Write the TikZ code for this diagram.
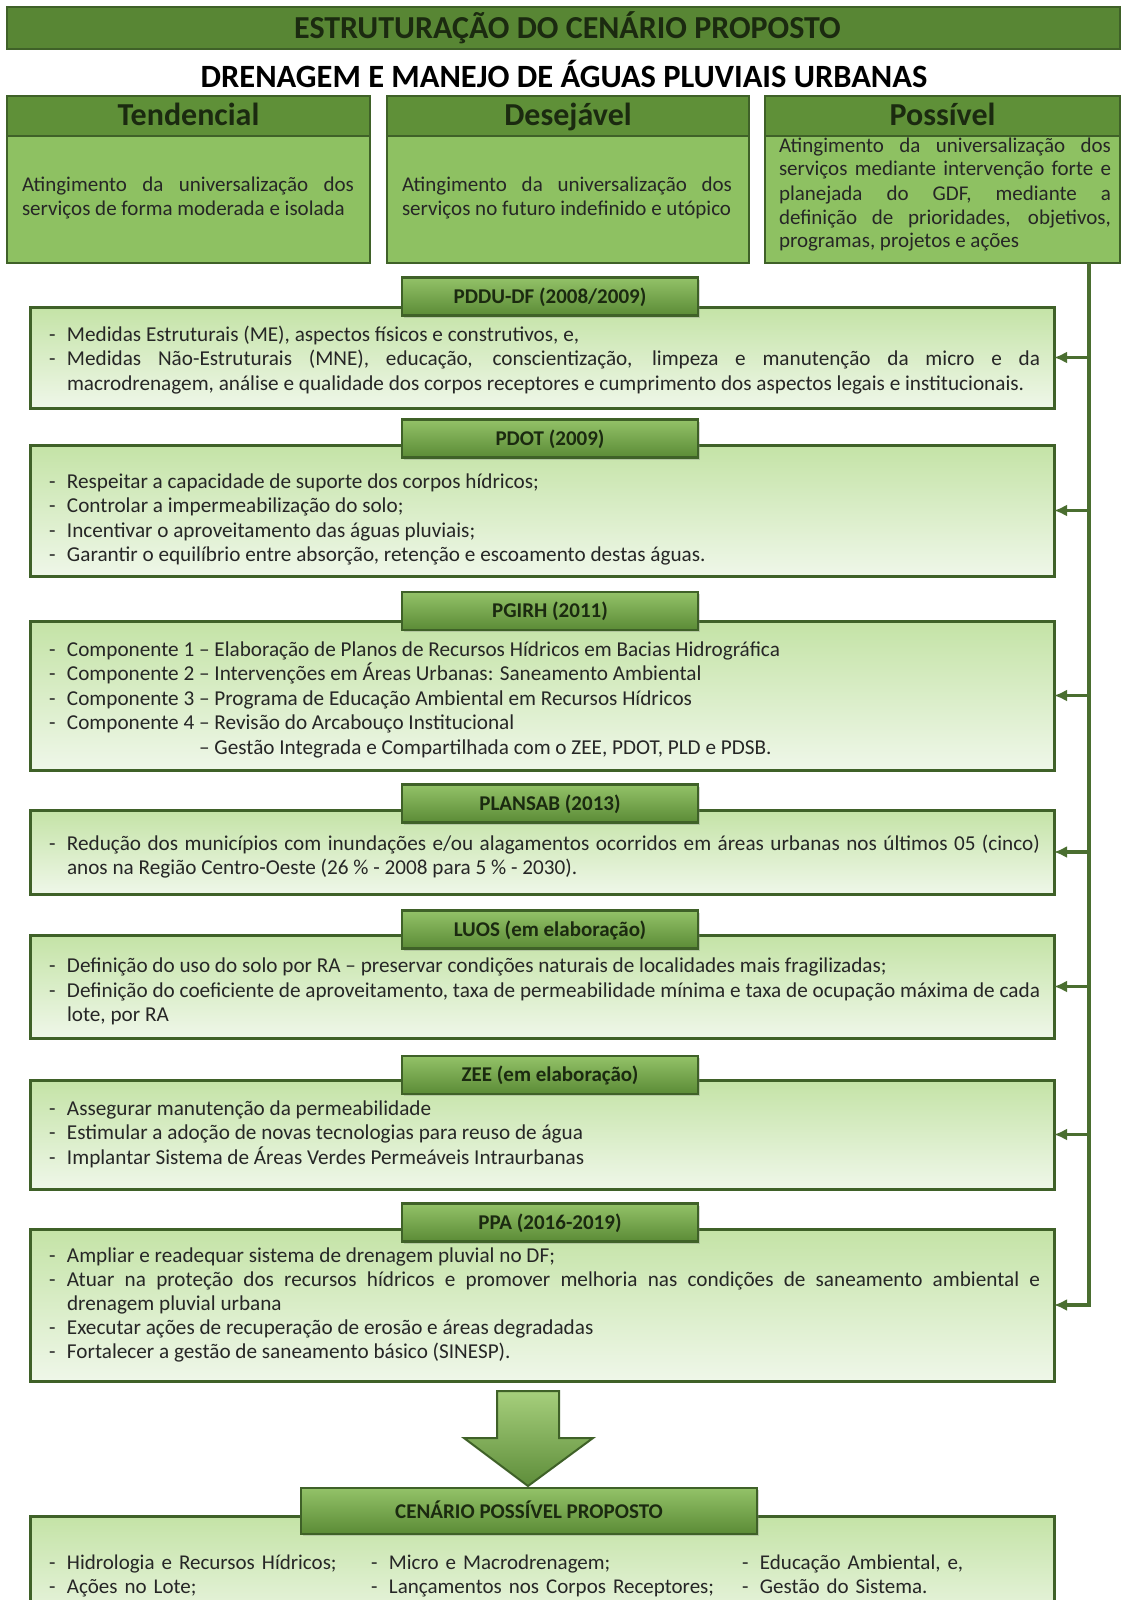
\documentclass[tikz,border=0pt]{standalone}
\usepackage{fontspec}
\setmainfont{Carlito}
\usetikzlibrary{arrows.meta,shadows,calc}
\definecolor{dkg}{HTML}{3F6128}
\definecolor{barg}{HTML}{588634}
\definecolor{hdrg}{HTML}{5F9038}
\definecolor{bodyg}{HTML}{8EC162}
\definecolor{lgtop}{HTML}{C4E3A6}
\definecolor{lgbot}{HTML}{EFF7E9}
\definecolor{lbtop}{HTML}{93C268}
\definecolor{lbbot}{HTML}{5B8B36}
\definecolor{ttxt}{HTML}{1B2A10}
\definecolor{btxt}{HTML}{262626}
\definecolor{conng}{HTML}{4A6E30}
\definecolor{artop}{HTML}{A6CF7C}
\definecolor{arbot}{HTML}{5E8D3A}
\newcommand\bitem[1]{\noindent\hangindent=18pt\hangafter=1\makebox[18pt][l]{-}#1\par}
\begin{document}
\begin{tikzpicture}[x=1pt,y=-1pt,
  every node/.style={inner sep=0pt, outer sep=0pt},
  titlebar/.style={draw=dkg, line width=2pt, fill=barg, font=\fontsize{32}{36}\selectfont\bfseries, text=ttxt},
  subt/.style={font=\fontsize{32.5}{36}\selectfont\bfseries, text=black},
  hdr/.style={draw=dkg, line width=2.5pt, fill=hdrg, font=\fontsize{32}{36}\selectfont\bfseries, text=ttxt,
     text height=25pt, text depth=6pt},
  topbody/.style={draw=dkg, line width=2.5pt, fill=bodyg},
  toptext/.style={anchor=base west, text width=332pt, align=justify, font=\fontsize{21}{24}\selectfont, text=btxt},
  contentbox/.style={draw=dkg, line width=3pt, top color=lgtop, bottom color=lgbot,
     drop shadow={shadow xshift=2pt, shadow yshift=-2pt, opacity=0.3}},
  labelbox/.style={draw=dkg, line width=2.5pt, top color=lbtop, bottom color=lbbot,
     minimum width=296, minimum height=38, text height=16pt, text depth=3pt,
     font=\fontsize{21}{25}\selectfont\bfseries, text=ttxt,
     drop shadow={shadow xshift=2pt, shadow yshift=-2pt, opacity=0.3}},
  bodytext/.style={anchor=base west, text width=991pt, align=justify, font=\fontsize{21.2}{24.5}\selectfont, text=btxt},
  coltext/.style={anchor=base west, text width=365pt, align=left, font=\fontsize{21}{24}\selectfont, text=btxt},
  conn/.style={draw=conng, line width=3.5pt},
  arr/.style={conn, -{Latex[length=13pt,width=12pt]}},
  bigarrow/.style={draw=dkg, line width=2pt, top color=artop, bottom color=arbot}
]
\useasboundingbox (0,0) rectangle (1124,1600);
\fill[white] (0,0) rectangle (1124,1600);

% title
\node[titlebar, minimum width=1113, minimum height=42] (title) at (563.5,28) {\hspace*{8pt}ESTRUTURAÇÃO DO CENÁRIO PROPOSTO};
\node[subt] (subtitle) at (564,74) {DRENAGEM E MANEJO DE ÁGUAS PLUVIAIS URBANAS};

% top boxes
\node[topbody, minimum width=363, minimum height=127] (tb) at (188.5,199.5) {};
\node[hdr, minimum width=363, minimum height=40] (th) at (188.5,116) {Tendencial};
\node[topbody, minimum width=362, minimum height=127] (db) at (568,199.5) {};
\node[hdr, minimum width=362, minimum height=40] (dh) at (568,116) {Desejável};
\node[topbody, minimum width=355, minimum height=127] (pb) at (942.5,199.5) {};
\node[hdr, minimum width=355, minimum height=40] (ph) at (942.5,116) {Possível};

\node[toptext] (tt) at (22,191) {Atingimento da universalização dos\linebreak serviços de forma moderada e isolada};
\node[toptext, text width=330pt] (dt) at (402,191) {Atingimento da universalização dos\linebreak serviços no futuro indefinido e utópico};
\node[toptext] (pt) at (779,152) {Atingimento da universalização dos\linebreak serviços mediante intervenção forte e\linebreak planejada do GDF, mediante a\linebreak definição de prioridades, objetivos,\linebreak programas, projetos e ações};

% content boxes
\node[contentbox, minimum width=1024, minimum height=101] (b1) at (542,357.5) {};
\node[contentbox, minimum width=1024, minimum height=131] (b2) at (542,510.5) {};
\node[contentbox, minimum width=1024, minimum height=149] (b3) at (542,695.5) {};
\node[contentbox, minimum width=1024, minimum height=84] (b4) at (542,852) {};
\node[contentbox, minimum width=1024, minimum height=103] (b5) at (542,986.5) {};
\node[contentbox, minimum width=1024, minimum height=109] (b6) at (542,1134.5) {};
\node[contentbox, minimum width=1024, minimum height=152] (b7) at (542,1305) {};
\node[contentbox, minimum width=1024, minimum height=120] (b8) at (542,1576) {};

% labels
\node[labelbox] (l1) at (550,296.5) {PDDU-DF (2008/2009)};
\node[labelbox] (l2) at (550,438.5) {PDOT (2009)};
\node[labelbox] (l3) at (550,611) {PGIRH (2011)};
\node[labelbox] (l4) at (550,803.5) {PLANSAB (2013)};
\node[labelbox] (l5) at (550,929.5) {LUOS (em elaboração)};
\node[labelbox] (l6) at (550,1075) {ZEE (em elaboração)};
\node[labelbox] (l7) at (550,1222.5) {PPA (2016-2019)};
\node[labelbox, minimum width=456, minimum height=46, text height=17pt, text depth=3pt] (l8) at (529,1511) {CENÁRIO POSSÍVEL PROPOSTO};

% texts
\node[bodytext] (x1) at (49,341) {%
\bitem{Medidas Estruturais (ME), aspectos físicos e construtivos, e,}
\bitem{Medidas Não-Estruturais (MNE), educação, conscientização, limpeza e manutenção da micro e da\linebreak macrodrenagem, análise e qualidade dos corpos receptores e cumprimento dos aspectos legais e institucionais.}};
\node[bodytext] (x2) at (49,488) {%
\bitem{Respeitar a capacidade de suporte dos corpos hídricos;}
\bitem{Controlar a impermeabilização do solo;}
\bitem{Incentivar o aproveitamento das águas pluviais;}
\bitem{Garantir o equilíbrio entre absorção, retenção e escoamento destas águas.}};
\node[bodytext] (x3) at (49,656) {%
\bitem{Componente 1 – Elaboração de Planos de Recursos Hídricos em Bacias Hidrográfica}
\bitem{Componente 2 – Intervenções em Áreas Urbanas: Saneamento Ambiental}
\bitem{Componente 3 – Programa de Educação Ambiental em Recursos Hídricos}
\bitem{Componente 4 – Revisão do Arcabouço Institucional}
\noindent\hspace*{18pt}\hphantom{Componente 4 }– Gestão Integrada e Compartilhada com o ZEE, PDOT, PLD e PDSB.\par};
\node[bodytext] (x4) at (49,850) {%
\bitem{Redução dos municípios com inundações e/ou alagamentos ocorridos em áreas urbanas nos últimos 05 (cinco)\linebreak anos na Região Centro-Oeste (26 \% - 2008 para 5 \% - 2030).}};
\node[bodytext] (x5) at (49,972.5) {%
\bitem{Definição do uso do solo por RA – preservar condições naturais de localidades mais fragilizadas;}
\bitem{Definição do coeficiente de aproveitamento, taxa de permeabilidade mínima e taxa de ocupação máxima de cada\linebreak lote, por RA}};
\node[bodytext] (x6) at (49,1115) {%
\bitem{Assegurar manutenção da permeabilidade}
\bitem{Estimular a adoção de novas tecnologias para reuso de água}
\bitem{Implantar Sistema de Áreas Verdes Permeáveis Intraurbanas}};
\node[bodytext, font=\fontsize{21.2}{24.2}\selectfont] (x7) at (49,1262) {%
\bitem{Ampliar e readequar sistema de drenagem pluvial no DF;}
\bitem{Atuar na proteção dos recursos hídricos e promover melhoria nas condições de saneamento ambiental e\linebreak drenagem pluvial urbana}
\bitem{Executar ações de recuperação de erosão e áreas degradadas}
\bitem{Fortalecer a gestão de saneamento básico (SINESP).}};

\node[coltext] (c1) at (49,1569) {\bitem{Hidrologia e Recursos Hídricos;}\bitem{Ações no Lote;}};
\node[coltext] (c2) at (371,1569) {\bitem{Micro e Macrodrenagem;}\bitem{Lançamentos nos Corpos Receptores;}};
\node[coltext] (c3) at (742,1569) {\bitem{Educação Ambiental, e,}\bitem{Gestão do Sistema.}};

% connectors
\coordinate (trunkx) at (1089,0);
\draw[arr] (pb.south -| trunkx) |- (b7.east);
\foreach \b in {b1,b2,b3,b4,b5,b6}{
  \draw[arr] (\b.east -| trunkx) -- (\b.east);
}

% big arrow
\path[bigarrow] (497,1391) -- (559,1391) -- (559,1438) -- (593,1438) -- (528,1486) -- (464,1438) -- (497,1438) -- cycle;
\end{tikzpicture}
\end{document}
